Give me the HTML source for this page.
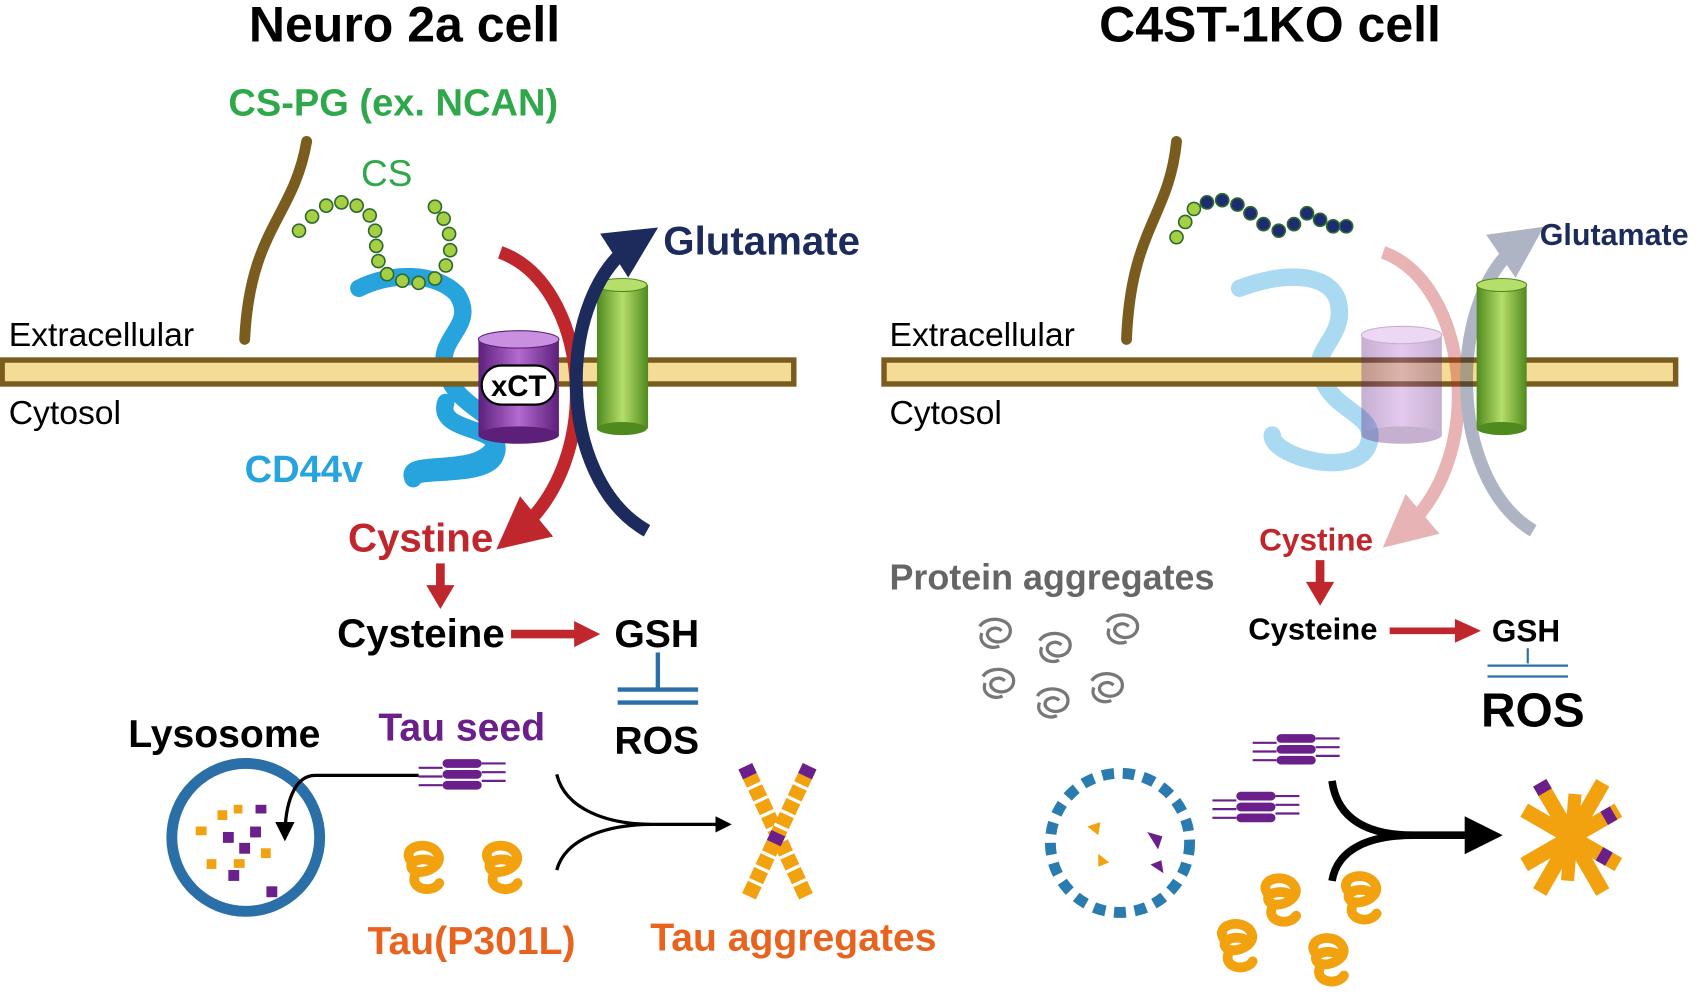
<!DOCTYPE html>
<html><head><meta charset="utf-8"><style>
html,body{margin:0;padding:0;background:#fff;width:1705px;height:1005px;overflow:hidden}
svg{display:block}
text{font-family:"Liberation Sans",Arial,sans-serif;font-weight:bold}
text.n{font-weight:normal}
</style></head><body>
<svg width="1705" height="1005" viewBox="0 0 1568 924" xmlns="http://www.w3.org/2000/svg">
<defs>
<marker id="ar" viewBox="0 0 10 10" refX="5" refY="5" markerWidth="4" markerHeight="4" orient="auto"><path d="M0,0L10,5L0,10z" fill="#c0272d"/></marker>
<marker id="an" viewBox="0 0 10 10" refX="5" refY="5" markerWidth="4" markerHeight="4" orient="auto"><path d="M0,0L10,5L0,10z" fill="#1d2b5c"/></marker>
<marker id="ak" viewBox="0 0 10 10" refX="8" refY="5" markerWidth="6" markerHeight="6" orient="auto"><path d="M0,0L10,5L0,10z" fill="#000"/></marker>
<marker id="ak2" viewBox="0 0 10 10" refX="8" refY="5" markerWidth="5" markerHeight="5" orient="auto"><path d="M0,0L10,5L0,10z" fill="#000"/></marker>
<linearGradient id="gp" x1="0" x2="1"><stop offset="0" stop-color="#5c1f7a"/><stop offset=".5" stop-color="#b46ad0"/><stop offset="1" stop-color="#5c1f7a"/></linearGradient>
<linearGradient id="gg" x1="0" x2="1"><stop offset="0" stop-color="#4f8a1e"/><stop offset=".5" stop-color="#b5de6a"/><stop offset="1" stop-color="#4f8a1e"/></linearGradient>
<g id="tau"><path d="M-12,-8 C-22,-22 4,-28 12,-16 C20,-4 -2,6 -10,0 C-18,-8 2,-14 10,-6 M-8,4 C-14,18 8,22 14,12" fill="none" stroke="#f2a10f" stroke-width="9" stroke-linecap="round"/></g>
<g id="seed" fill="#6a1f8a"><rect x="-18" y="-14" width="36" height="8" rx="4"/><rect x="-18" y="-4" width="36" height="8" rx="4"/><rect x="-18" y="6" width="36" height="8" rx="4"/><path d="M-40,-6h22M-40,2h22M-40,10h22M18,-10h22M18,-2h22M18,6h22" stroke="#6a1f8a" stroke-width="2"/></g>
<g id="pa"><path d="M-14,-6 C-8,-16 12,-14 14,-4 C16,8 0,12 -6,4 C-10,-2 0,-8 6,-2 M-12,0 C-16,10 -4,16 4,12" fill="none" stroke="#777" stroke-width="3"/></g>
</defs>

<!-- titles -->
<text x="372" y="38" font-size="46" text-anchor="middle">Neuro 2a cell</text>
<text x="1168" y="38" font-size="46" text-anchor="middle">C4ST-1KO cell</text>

<!-- LEFT -->
<text x="210" y="106" font-size="35" fill="#2ea84a">CS-PG (ex. NCAN)</text>
<text x="332" y="171" font-size="34" fill="#2ea84a" class="n">CS</text>
<path d="M282,130 C270,200 230,210 225,312" fill="none" stroke="#7a5c1e" stroke-width="10" stroke-linecap="round"/>
<path d="M330,265 C360,250 400,250 420,270 C440,300 400,310 410,340 C420,380 470,380 455,410 C440,440 370,420 380,440" fill="none" stroke="#27a3de" stroke-width="16" stroke-linecap="round" stroke-linejoin="round"/>
<g fill="#a6cf44" stroke="#2e6a2e" stroke-width="1.5">
<circle cx="275" cy="212" r="6"/><circle cx="287" cy="199" r="6"/><circle cx="300" cy="189" r="6"/><circle cx="314" cy="186" r="6"/><circle cx="328" cy="189" r="6"/><circle cx="340" cy="198" r="6"/><circle cx="345" cy="212" r="6"/><circle cx="346" cy="226" r="6"/><circle cx="348" cy="240" r="6"/><circle cx="356" cy="252" r="6"/><circle cx="370" cy="258" r="6"/><circle cx="385" cy="260" r="6"/><circle cx="400" cy="256" r="6"/><circle cx="410" cy="244" r="6"/><circle cx="414" cy="230" r="6"/><circle cx="413" cy="215" r="6"/><circle cx="408" cy="201" r="6"/><circle cx="400" cy="190" r="6"/>
</g>
<rect x="2" y="331" width="728" height="22" fill="#f5dc96" stroke="#7a5c1e" stroke-width="5"/>
<text x="8" y="318" font-size="31" class="n">Extracellular</text>
<text x="8" y="390" font-size="31" class="n">Cytosol</text>
<path d="M410,370 C400,400 470,390 455,420 C445,440 380,430 380,440" fill="none" stroke="#27a3de" stroke-width="16" stroke-linecap="round"/>
<!-- xCT -->
<rect x="440" y="312" width="74" height="88" fill="url(#gp)"/>
<ellipse cx="477" cy="400" rx="37" ry="8" fill="#5c1f7a"/>
<ellipse cx="477" cy="312" rx="37" ry="8" fill="#c98fe0" stroke="#5c1f7a"/>
<rect x="443" y="336" width="68" height="36" rx="18" fill="#fff" stroke="#000" stroke-width="2"/>
<text x="477" y="364" font-size="27" text-anchor="middle">xCT</text>
<!-- green -->
<rect x="549" y="262" width="47" height="132" fill="url(#gg)"/>
<ellipse cx="572" cy="394" rx="23" ry="6" fill="#4f8a1e"/>
<ellipse cx="572" cy="262" rx="23" ry="6" fill="#b5de6a" stroke="#4f8a1e"/>
<path d="M460,232 C540,260 560,420 475,490" fill="none" stroke="#c0272d" stroke-width="12" marker-end="url(#ar)"/>
<path d="M595,488 C510,440 510,270 585,222" fill="none" stroke="#1d2b5c" stroke-width="12" marker-end="url(#an)"/>
<text x="610" y="234" font-size="37" fill="#1d2b5c">Glutamate</text>
<text x="225" y="443" font-size="35" fill="#27a3de">CD44v</text>
<text x="320" y="507" font-size="37" fill="#c0272d">Cystine</text>
<path d="M405,518v22" stroke="#c0272d" stroke-width="8"/><path d="M392,538h26l-13,22z" fill="#c0272d"/>
<text x="310" y="595" font-size="37">Cysteine</text>
<path d="M470,583h60" stroke="#c0272d" stroke-width="8"/><path d="M528,571l24,12l-24,12z" fill="#c0272d"/>
<text x="565" y="595" font-size="36">GSH</text>
<path d="M605,600v32M568,634h74M568,646h74" stroke="#2a6fa8" stroke-width="4"/>
<text x="565" y="693" font-size="36">ROS</text>
<text x="118" y="687" font-size="36">Lysosome</text>
<text x="348" y="681" font-size="36" fill="#6a1f8a">Tau seed</text>
<use href="#seed" x="425" y="712"/>
<use href="#tau" x="390" y="800"/><use href="#tau" x="462" y="800"/>
<text x="338" y="877" font-size="36" fill="#e8641e">Tau(P301L)</text>
<text x="598" y="874" font-size="36" fill="#e8641e">Tau aggregates</text>
<circle cx="226" cy="770" r="68" fill="none" stroke="#2a6fa8" stroke-width="10"/>
<g fill="#f2a10f"><rect x="180" y="760" width="10" height="8"/><rect x="200" y="745" width="9" height="9"/><rect x="215" y="790" width="10" height="8"/><rect x="190" y="790" width="9" height="9"/><rect x="240" y="780" width="9" height="9"/><rect x="215" y="740" width="8" height="8"/></g>
<g fill="#6a1f8a"><rect x="205" y="765" width="10" height="10"/><rect x="230" y="760" width="10" height="10"/><rect x="220" y="775" width="10" height="10"/><rect x="245" y="815" width="10" height="10"/><rect x="210" y="800" width="10" height="10"/><rect x="235" y="740" width="10" height="8"/></g>
<path d="M385,713 L290,713 C270,713 262,740 262,770" fill="none" stroke="#000" stroke-width="3" marker-end="url(#ak)"/>
<path d="M512,712 C520,745 560,758 600,758 M512,800 C520,770 560,758 600,758 L670,758" fill="none" stroke="#000" stroke-width="3" marker-end="url(#ak2)"/>
<g transform="translate(715,768) rotate(-25)"><g fill="#f2a10f"><rect x="-7" y="-62" width="14" height="124"/></g><path d="M-7,-50h14M-7,-36h14M-7,-22h14M-7,-8h14M-7,6h14M-7,20h14M-7,34h14M-7,48h14" stroke="#fff" stroke-width="3"/><rect x="-7" y="-70" width="14" height="10" fill="#6a1f8a"/></g>
<g transform="translate(715,768) rotate(25)"><g fill="#f2a10f"><rect x="-7" y="-62" width="14" height="124"/></g><path d="M-7,-50h14M-7,-36h14M-7,-22h14M-7,-8h14M-7,6h14M-7,20h14M-7,34h14M-7,48h14" stroke="#fff" stroke-width="3"/><rect x="-7" y="-70" width="14" height="10" fill="#6a1f8a"/><rect x="-7" y="-2" width="14" height="10" fill="#6a1f8a"/></g>

<!-- RIGHT -->
<path d="M1082,130 C1075,200 1040,210 1036,312" fill="none" stroke="#7a5c1e" stroke-width="10" stroke-linecap="round"/>
<g stroke="#2e6a2e" stroke-width="1.5"><g fill="#a6cf44"><circle cx="1082" cy="218" r="6"/><circle cx="1090" cy="204" r="6"/><circle cx="1098" cy="192" r="6"/></g>
<g fill="#1d2b72"><circle cx="1110" cy="186" r="6"/><circle cx="1124" cy="184" r="6"/><circle cx="1138" cy="188" r="6"/><circle cx="1150" cy="196" r="6"/><circle cx="1162" cy="206" r="6"/><circle cx="1176" cy="212" r="6"/><circle cx="1190" cy="206" r="6"/><circle cx="1202" cy="196" r="6"/><circle cx="1214" cy="202" r="6"/><circle cx="1226" cy="208" r="6"/><circle cx="1238" cy="208" r="6"/></g></g>
<g opacity="0.4">
<path d="M1140,265 C1180,250 1220,250 1230,275 C1240,310 1205,320 1215,345 C1225,380 1270,380 1258,410 C1245,440 1170,420 1170,400" fill="none" stroke="#27a3de" stroke-width="16" stroke-linecap="round"/>
</g>
<rect x="813" y="331" width="728" height="22" fill="#f5dc96" stroke="#7a5c1e" stroke-width="5"/>
<text x="818" y="318" font-size="31" class="n">Extracellular</text>
<text x="818" y="390" font-size="31" class="n">Cytosol</text>
<g opacity="0.35">
<rect x="1252" y="308" width="74" height="92" fill="url(#gp)"/><ellipse cx="1289" cy="400" rx="37" ry="8" fill="#5c1f7a"/><ellipse cx="1289" cy="308" rx="37" ry="8" fill="#c98fe0" stroke="#5c1f7a"/>
<path d="M1272,232 C1350,260 1370,420 1290,488" fill="none" stroke="#c0272d" stroke-width="12" marker-end="url(#ar)"/>
<path d="M1410,488 C1330,440 1330,270 1400,222" fill="none" stroke="#1d2b5c" stroke-width="12" marker-end="url(#an)"/>
</g>
<rect x="1358" y="262" width="46" height="132" fill="url(#gg)"/>
<ellipse cx="1381" cy="394" rx="23" ry="6" fill="#4f8a1e"/>
<ellipse cx="1381" cy="262" rx="23" ry="6" fill="#b5de6a" stroke="#4f8a1e"/>
<text x="1416" y="225" font-size="28" fill="#1d2b5c">Glutamate</text>
<text x="1158" y="506" font-size="29" fill="#c0272d">Cystine</text>
<path d="M1214,515v22" stroke="#c0272d" stroke-width="8"/><path d="M1201,535h26l-13,22z" fill="#c0272d"/>
<text x="1148" y="588" font-size="28.5">Cysteine</text>
<path d="M1278,580h62" stroke="#c0272d" stroke-width="6"/><path d="M1338,569l24,11l-24,11z" fill="#c0272d"/>
<text x="1372" y="590" font-size="29">GSH</text>
<path d="M1405,596v14M1368,612h74M1368,622h74" stroke="#2a6fa8" stroke-width="2"/>
<text x="1362" y="668" font-size="44">ROS</text>
<text x="818" y="542" font-size="33" fill="#666">Protein aggregates</text>
<use href="#pa" x="915" y="582"/><use href="#pa" x="970" y="595"/><use href="#pa" x="1032" y="578"/><use href="#pa" x="918" y="628"/><use href="#pa" x="968" y="646"/><use href="#pa" x="1018" y="632"/>
<circle cx="1030" cy="775" r="64" fill="none" stroke="#2a7bb0" stroke-width="10" stroke-dasharray="11 8"/>
<path d="M1000,760l12,-4l-2,12z M1010,785l10,8l-10,4z" fill="#f2a10f"/>
<path d="M1055,765l14,4l-4,12z M1058,795l10,-4l2,12z" fill="#6a1f8a"/>
<use href="#seed" x="1192" y="689"/><use href="#seed" x="1155" y="742"/>
<use href="#tau" x="1178" y="830"/><use href="#tau" x="1252" y="828"/><use href="#tau" x="1138" y="872"/><use href="#tau" x="1222" y="885"/>
<path d="M1225,718 C1230,755 1260,768 1300,768 M1225,810 C1230,780 1260,768 1300,768 L1375,768" fill="none" stroke="#000" stroke-width="7" marker-end="url(#ak2)"/>
<g transform="translate(1445,770)">
<g transform="rotate(-30)"><rect x="-7" y="-58" width="14" height="116" fill="#f2a10f"/><rect x="-7" y="-58" width="14" height="10" fill="#6a1f8a"/></g>
<g transform="rotate(30)"><rect x="-7" y="-58" width="14" height="116" fill="#f2a10f"/><rect x="-7" y="0" width="14" height="10" fill="#6a1f8a"/></g>
<g transform="rotate(-60)"><rect x="-7" y="-50" width="14" height="100" fill="#f2a10f"/><rect x="-7" y="30" width="14" height="10" fill="#6a1f8a"/></g>
<g transform="rotate(60)"><rect x="-7" y="-50" width="14" height="100" fill="#f2a10f"/><rect x="-7" y="-45" width="14" height="10" fill="#6a1f8a"/></g>
<g transform="rotate(5)"><rect x="-6" y="-40" width="12" height="80" fill="#f2a10f"/></g>
</g>
</svg>
</body></html>
